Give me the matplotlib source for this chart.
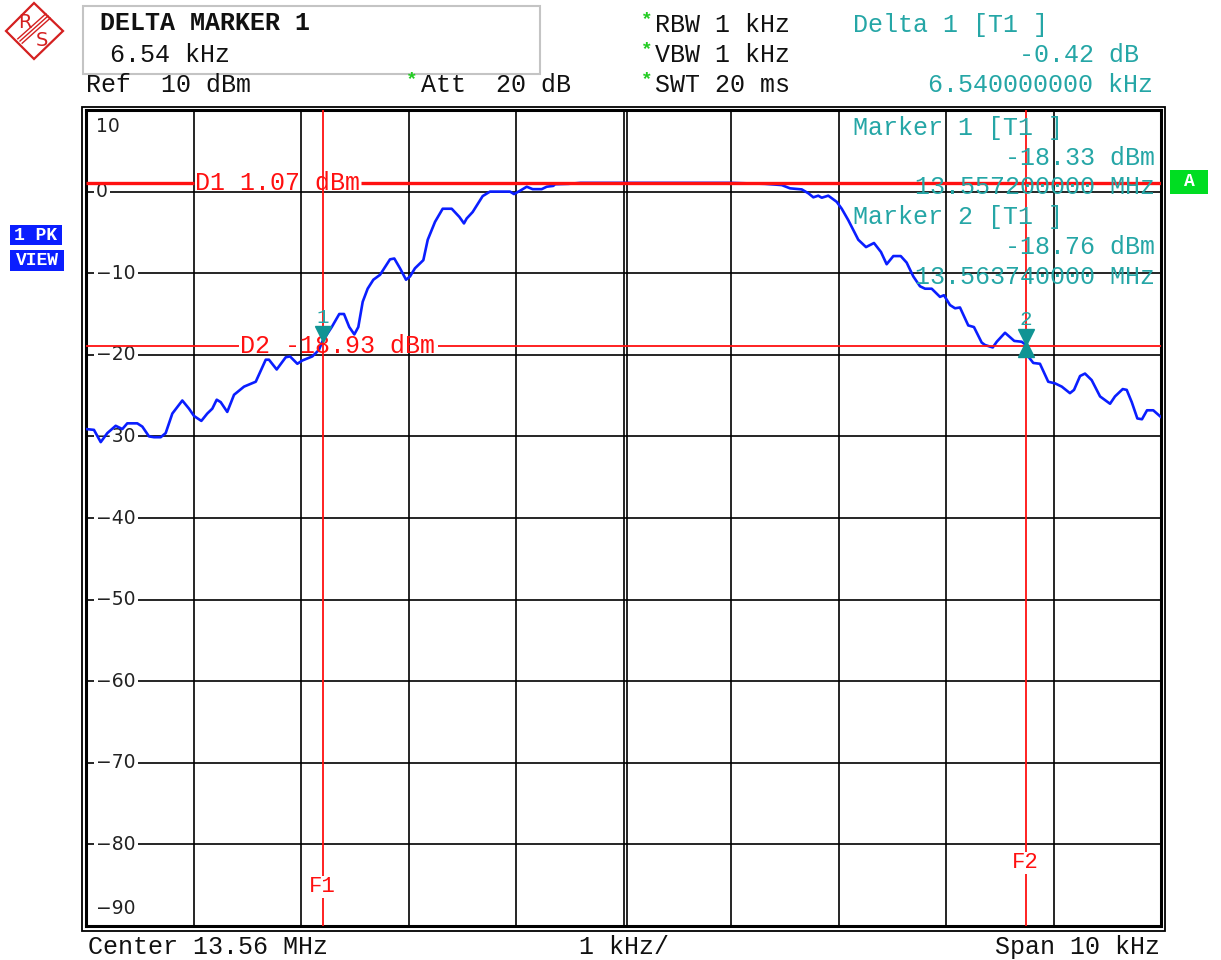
import matplotlib.pyplot as plt
import matplotlib.transforms as mtransforms
from matplotlib.patches import Polygon, Rectangle
from matplotlib.lines import Line2D

# Spectrum analyzer screen: delta marker measurement around 13.56 MHz

MONO = 'Liberation Mono'
TEAL = '#25a6a6'
MARK = '#109494'
RED = '#ff1010'
BLUE = '#0a1eff'

start_mhz = 13.555
span_khz = 10
ref_dbm = 10
bottom_dbm = -90
grid_db = [0, -10, -20, -30, -40, -50, -60, -70, -80]

# trace, frequency offset from start (kHz) and level (dBm)
trace_khz = [0.0, 0.074, 0.137, 0.198, 0.276, 0.338, 0.384, 0.477, 0.524, 0.586,
             0.633, 0.695, 0.741, 0.803, 0.896, 0.958, 1.005, 1.073, 1.128, 1.175,
             1.216, 1.253, 1.314, 1.377, 1.470, 1.579, 1.672, 1.702, 1.774, 1.858,
             1.898, 1.966, 2.012, 2.105, 2.167, 2.200, 2.286, 2.356, 2.400, 2.449,
             2.496, 2.533, 2.574, 2.620, 2.673, 2.735, 2.828, 2.868, 2.921, 2.977,
             3.014, 3.060, 3.138, 3.179, 3.247, 3.318, 3.402, 3.473, 3.516, 3.541,
             3.597, 3.690, 3.758, 3.944, 3.981, 4.037, 4.100, 4.155, 4.239, 4.286,
             4.347, 4.363, 4.487, 4.600, 4.800, 5.000, 5.300, 5.600, 6.000, 6.316,
             6.472, 6.549, 6.658, 6.719, 6.766, 6.812, 6.844, 6.905, 6.983, 7.030,
             7.091, 7.184, 7.256, 7.330, 7.395, 7.448, 7.510, 7.579, 7.634, 7.696,
             7.758, 7.805, 7.867, 7.944, 7.981, 8.037, 8.084, 8.130, 8.207, 8.260,
             8.332, 8.363, 8.435, 8.472, 8.549, 8.635, 8.704, 8.740, 8.765, 8.812,
             8.874, 8.951, 9.014, 9.077, 9.153, 9.191, 9.247, 9.293, 9.355, 9.433,
             9.526, 9.572, 9.644, 9.681, 9.728, 9.780, 9.823, 9.870, 9.928, 9.997]
trace_dbm = [-29.1, -29.2, -30.7, -29.6, -28.7, -29.1, -28.4, -28.4, -28.8, -30.0,
             -30.1, -30.1, -29.6, -27.2, -25.6, -26.6, -27.5, -28.1, -27.2, -26.6,
             -25.5, -25.8, -27.0, -24.9, -23.9, -23.3, -20.6, -20.6, -21.8, -20.3,
             -20.2, -21.1, -20.7, -20.2, -19.4, -18.33, -16.6, -15.0, -15.0, -16.6,
             -17.5, -16.6, -13.5, -11.9, -10.8, -10.2, -8.3, -8.2, -9.4, -10.8,
             -10.4, -9.4, -8.4, -5.9, -3.7, -2.1, -2.1, -3.1, -3.9, -3.3,
             -2.5, -0.55, 0.0, 0.0, -0.3, 0.1, 0.6, 0.3, 0.3, 0.6,
             0.7, 0.9, 0.95, 1.07, 1.07, 1.07, 1.07, 1.07, 1.07, 0.95,
             0.8, 0.4, 0.27, -0.2, -0.7, -0.5, -0.75, -0.5, -1.25, -2.1,
             -3.5, -5.9, -6.8, -6.3, -7.4, -8.9, -7.9, -7.9, -8.7, -10.4,
             -11.6, -11.9, -11.9, -12.9, -12.7, -13.9, -14.3, -14.2, -16.4, -16.6,
             -18.5, -18.8, -19.1, -18.4, -17.3, -18.3, -18.4, -18.76, -20.2, -21.0,
             -21.1, -23.3, -23.5, -23.9, -24.7, -24.3, -22.6, -22.3, -23.1, -25.1,
             -26.0, -25.1, -24.2, -24.3, -25.8, -27.8, -27.9, -26.8, -26.8, -27.6]

d1_dbm = 1.07
d2_dbm = -18.93
m1_khz, m1_dbm = 2.20, -18.33
m2_khz, m2_dbm = 8.74, -18.76

W, H = 1221, 960
fig = plt.figure(figsize=(W / 100, H / 100), dpi=100)
fig.patch.set_facecolor('white')


def fx(x):
    return x / W


def fy(y):
    return 1 - y / H


ax = fig.add_axes([fx(86), fy(926), fx(1161) - fx(86), fy(110) - fy(926)])
ax.set_xlim(0, span_khz)
ax.set_ylim(bottom_dbm, ref_dbm)
ax.set_xticks(range(0, span_khz + 1))
ax.set_yticks(grid_db)
ax.tick_params(length=0, labelbottom=False, labelleft=False)
ax.grid(True, color='black', lw=1.2, zorder=1)
for s in ax.spines.values():
    s.set_linewidth(2.2)

# double line at the centre
center = span_khz / 2
xt = mtransforms.offset_copy(ax.get_xaxis_transform(), fig, x=3, y=0, units='dots')
ax.plot([center, center], [0, 1], color='black', lw=1.2, zorder=1, transform=xt)

# outer frame line
fig.add_artist(Rectangle((fx(82), fy(931)), fx(1165) - fx(82), fy(107) - fy(931),
                         fill=False, ec='black', lw=1.3, transform=fig.transFigure))

# level labels on the grid
ylab = ax.get_yaxis_transform()
for v in grid_db:
    ax.text(0.0095, v, str(v).replace('-', '\u2212'), transform=ylab, ha='left', va='center',
            fontsize=13.5, family='DejaVu Sans', color='#222222', zorder=3,
            bbox=dict(boxstyle='square,pad=0.12', fc='white', ec='none'))
ax.text(0.009, 8.0, '10', transform=ylab, ha='left', va='center', fontsize=13.5,
        family='DejaVu Sans', color='#222222', zorder=3)
ax.text(0.0095, -87.8, '\u221290', transform=ylab, ha='left', va='center', fontsize=13.5,
        family='DejaVu Sans', color='#222222', zorder=3)

# trace
ax.plot(trace_khz, trace_dbm, color=BLUE, lw=1.9, zorder=4, solid_joinstyle='round')

# display lines D1 / D2, broken around their labels
ax.hlines(d1_dbm, 0, 1.0, color=RED, lw=2.4, zorder=5)
ax.hlines(d1_dbm, 2.56, span_khz, color=RED, lw=2.4, zorder=5)
ax.text(1.015, d1_dbm, 'D1 1.07 dBm', ha='left', va='center', fontsize=18,
        family=MONO, color=RED, zorder=6)
ax.hlines(d2_dbm, 0, 1.42, color=RED, lw=1.3, zorder=5)
ax.hlines(d2_dbm, 3.27, span_khz, color=RED, lw=1.3, zorder=5)
ax.text(1.435, d2_dbm, 'D2 -18.93 dBm', ha='left', va='center', fontsize=18,
        family=MONO, color=RED, zorder=6)

# frequency lines F1 / F2
ax.vlines(m1_khz, -83.9, ref_dbm, color=RED, lw=1.3, zorder=5)
ax.vlines(m1_khz, bottom_dbm, -86.6, color=RED, lw=1.3, zorder=5)
ax.text(m1_khz, -85.2, 'F1', ha='center', va='center', fontsize=16, family=MONO,
        color=RED, zorder=6)
ax.vlines(m2_khz, -80.9, ref_dbm, color=RED, lw=1.3, zorder=5)
ax.vlines(m2_khz, bottom_dbm, -83.6, color=RED, lw=1.3, zorder=5)
ax.text(m2_khz, -82.2, 'F2', ha='center', va='center', fontsize=16, family=MONO,
        color=RED, zorder=6)


# markers
def shifted(dy):
    return mtransforms.offset_copy(ax.transData, fig, x=0, y=dy, units='dots')


ax.plot(m1_khz, m1_dbm, marker='v', ms=11, color=MARK, mec=MARK, zorder=7, transform=shifted(7))
ax.text(m1_khz, m1_dbm, '1', ha='center', va='center', fontsize=15, family=MONO,
        color=TEAL, zorder=7, transform=shifted(24))
ax.plot(m2_khz, m2_dbm, marker='v', ms=11, color=MARK, mec=MARK, zorder=7, transform=shifted(8))
ax.plot(m2_khz, m2_dbm, marker='^', ms=11, color=MARK, mec=MARK, zorder=7, transform=shifted(-4))
ax.text(m2_khz, m2_dbm, '2', ha='center', va='center', fontsize=15, family=MONO,
        color=TEAL, zorder=7, transform=shifted(25))

# marker readout inside the grid
for txt, x, y, ha in [('Marker 1 [T1 ]', 853, 128, 'left'),
                      ('-18.33 dBm', 1155, 158, 'right'),
                      ('13.557200000 MHz', 1155, 187, 'right'),
                      ('Marker 2 [T1 ]', 853, 217, 'left'),
                      ('-18.76 dBm', 1155, 247, 'right'),
                      ('13.563740000 MHz', 1155, 277, 'right')]:
    fig.text(fx(x), fy(y), txt, ha=ha, va='center', fontsize=18, family=MONO, color=TEAL, zorder=8)

# header box
fig.add_artist(Rectangle((fx(83), fy(74)), fx(540) - fx(83), fy(6) - fy(74),
                         fill=False, ec='#c4c4c4', lw=1.5, transform=fig.transFigure))
fig.text(fx(100), fy(23), 'DELTA MARKER 1', ha='left', va='center', fontsize=18,
         family=MONO, weight='bold', color='#111111')
fig.text(fx(110), fy(55), '6.54 kHz', ha='left', va='center', fontsize=18, family=MONO,
         color='#111111')
fig.text(fx(86), fy(85), 'Ref  10 dBm', ha='left', va='center', fontsize=18, family=MONO,
         color='#111111')
fig.text(fx(406), fy(80), '*', ha='left', va='center', fontsize=14, family=MONO,
         color='#22cc22', weight='bold')
fig.text(fx(421), fy(85), 'Att  20 dB', ha='left', va='center', fontsize=18, family=MONO,
         color='#111111')
for txt, y in [('RBW 1 kHz', 25), ('VBW 1 kHz', 55), ('SWT 20 ms', 85)]:
    fig.text(fx(641), fy(y - 5), '*', ha='left', va='center', fontsize=14, family=MONO,
             color='#22cc22', weight='bold')
    fig.text(fx(655), fy(y), txt, ha='left', va='center', fontsize=18, family=MONO,
             color='#111111')
fig.text(fx(853), fy(25), 'Delta 1 [T1 ]', ha='left', va='center', fontsize=18,
         family=MONO, color=TEAL)
fig.text(fx(1139), fy(55), '-0.42 dB', ha='right', va='center', fontsize=18,
         family=MONO, color=TEAL)
fig.text(fx(1153), fy(85), '6.540000000 kHz', ha='right', va='center', fontsize=18,
         family=MONO, color=TEAL)

# footer
fig.text(fx(88), fy(947), 'Center 13.56 MHz', ha='left', va='center', fontsize=18,
         family=MONO, color='#111111')
fig.text(fx(624), fy(947), '1 kHz/', ha='center', va='center', fontsize=18,
         family=MONO, color='#111111')
fig.text(fx(1160), fy(947), 'Span 10 kHz', ha='right', va='center', fontsize=18,
         family=MONO, color='#111111')

# side badges
for (x0, y0, x1, y1), txt in [((10, 225, 62, 245), '1 PK'), ((10, 250, 64, 271), 'VIEW')]:
    fig.add_artist(Rectangle((fx(x0), fy(y1)), fx(x1) - fx(x0), fy(y0) - fy(y1),
                             fc='#0a1eff', ec='none', transform=fig.transFigure))
    fig.text(fx((x0 + x1) / 2), fy((y0 + y1) / 2), txt, ha='center', va='center',
             fontsize=13, family=MONO, weight='bold', color='white')
fig.add_artist(Rectangle((fx(1170), fy(194)), fx(1208) - fx(1170), fy(170) - fy(194),
                         fc='#00dd22', ec='none', transform=fig.transFigure))
fig.text(fx(1189), fy(182), 'A', ha='center', va='center', fontsize=13, family=MONO,
         weight='bold', color='white')

# R&S logo
logo_red = '#d42020'


def pts(p):
    return [(fx(a), fy(b)) for a, b in p]


fig.add_artist(Polygon(pts([(6, 31), (34, 3), (63, 31), (34, 59)]), closed=True, fill=False,
                       ec=logo_red, lw=1.6, transform=fig.transFigure))
for d in (-2.2, 0, 2.2):
    fig.add_artist(Line2D([fx(20 + d), fx(48 + d)], [fy(41 + d), fy(16 + d)], color=logo_red,
                          lw=1.0, transform=fig.transFigure))
fig.text(fx(25), fy(22), 'R', ha='center', va='center', fontsize=14, family='DejaVu Sans',
         color=logo_red)
fig.text(fx(42), fy(41), 'S', ha='center', va='center', fontsize=14, family='DejaVu Sans',
         color=logo_red)

fig.savefig('out.png', dpi=100)
